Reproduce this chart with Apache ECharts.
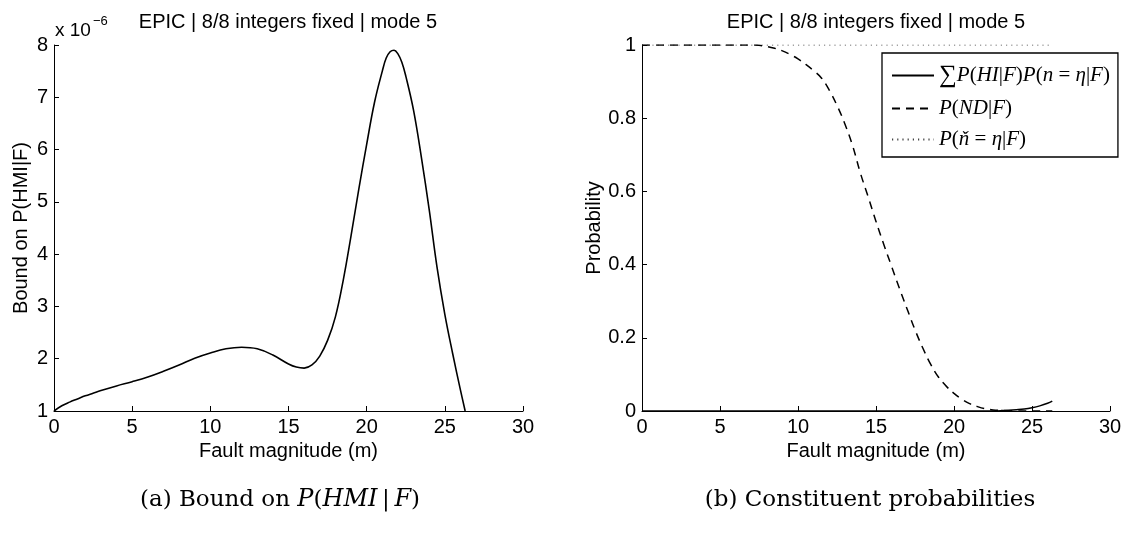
<!DOCTYPE html>
<html>
<head>
<meta charset="utf-8">
<script src="https://cdn.jsdelivr.net/npm/echarts@6/dist/echarts.min.js"></script>
<style>
html,body{margin:0;padding:0;background:#fff;}
#chart{width:1133px;height:533px;}
</style>
</head>
<body>
<div id="chart"></div>
<script>
// ---------- data ----------
const titleText = 'EPIC | 8/8 integers fixed | mode 5';
const xTicks = [0, 5, 10, 15, 20, 25, 30];

// (a) bound on P(HMI|F), values in units of 1e-6
const xLeft = [0,0.5,1,1.5,2,2.5,3,4,5,6,7,8,9,10,11,12,13,14,15,15.5,16,16.5,17,17.5,18,18.5,19,19.5,20,20.5,21,21.25,21.5,21.75,22,22.25,22.5,23,23.5,24,24.5,25,25.5,26,26.3];
const boundE6 = [1.0,1.10,1.17,1.23,1.29,1.34,1.39,1.48,1.56,1.65,1.76,1.88,2.01,2.11,2.19,2.22,2.19,2.07,1.90,1.84,1.82,1.88,2.05,2.35,2.8,3.5,4.35,5.25,6.1,6.9,7.5,7.75,7.87,7.9,7.83,7.67,7.41,6.75,5.85,4.85,3.75,2.85,2.1,1.4,1.0];

// (b) constituent probabilities
const xRight = [0,1,2,3,4,5,6,7,7.5,8,8.5,9,9.5,10,10.5,11,11.5,12,12.5,13,13.5,14,14.5,15,15.5,16,16.5,17,17.5,18,18.5,19,19.5,20,20.5,21,21.5,22,22.5,23,23.5,24,24.5,25,25.5,26,26.3];
const pSumHI = [0,0,0,0,0,0,0,0,0,0,0,0,0,0,0,0,0,0,0,0,0,0,0,0,0,0,0,0,0,0,0,0,0,0,0,0,0,0,0.0003,0.001,0.002,0.0035,0.0055,0.009,0.014,0.021,0.027];
const pND = [1,1,1,1,1,1,1,1,0.999,0.996,0.991,0.984,0.974,0.962,0.947,0.93,0.91,0.877,0.835,0.785,0.725,0.65,0.585,0.518,0.455,0.395,0.335,0.278,0.222,0.172,0.128,0.093,0.068,0.048,0.032,0.02,0.012,0.006,0.003,0.0015,0.0008,0.0004,0.0002,0.0001,0,0,0];
const pCheck = [1,1,1,1,1,1,1,1,1,1,1,1,1,1,1,1,1,1,1,1,1,1,1,1,1,1,1,1,1,1,1,1,1,1,1,1,1,1,1,1,1,1,1,1,1,1,1];

// ---------- helpers ----------
const pairs = (xs, ys) => xs.map((x, i) => [x, ys[i]]);
const SANS = '"Liberation Sans", Arial, Helvetica, sans-serif';
const SERIF = '"Liberation Serif", "Times New Roman", serif';
const CAPSERIF = '"DejaVu Serif", serif';

const axisCommon = {
  axisLine: {show: true, onZero: false, lineStyle: {color: '#000', width: 1}},
  axisTick: {show: true, inside: true, length: 5, lineStyle: {color: '#000', width: 1}},
  splitLine: {show: false},
  axisLabel: {color: '#000', fontSize: 20, fontFamily: SANS, margin: 6}
};
function xAxisFor(grid) {
  return Object.assign({}, axisCommon, {
    type: 'value', gridIndex: grid, min: 0, max: 30, interval: 5,
    name: 'Fault magnitude (m)', nameLocation: 'middle', nameGap: 26,
    nameTextStyle: {color: '#000', fontSize: 20, fontFamily: SANS}
  });
}

const legendRich = {
  i: {fontFamily: SERIF, fontStyle: 'italic', fontSize: 21, color: '#000', lineHeight: 20},
  r: {fontFamily: SERIF, fontSize: 21, color: '#000', lineHeight: 20},
  s: {fontFamily: SERIF, fontSize: 25, color: '#000', lineHeight: 20}
};
const legendLabels = {
  'sumHI': '{s|∑}{i|P}{r|(}{i|HI}{r||}{i|F}{r|)}{i|P}{r|(}{i|n}{r| = }{i|η}{r||}{i|F}{r|)}',
  'ND': '{i|P}{r|(}{i|ND}{r||}{i|F}{r|)}',
  'nCheck': '{i|P}{r|(}{i|ň}{r| = }{i|η}{r||}{i|F}{r|)}'
};
const capRich = {
  r: {fontFamily: CAPSERIF, fontSize: 23, fill: '#000'},
  i: {fontFamily: CAPSERIF, fontStyle: 'italic', fontSize: 24, fill: '#000'}
};

const chart = echarts.init(document.getElementById('chart'), null, {renderer: 'canvas'});
chart.setOption({
  animation: false,
  backgroundColor: '#fff',
  grid: [
    {left: 54, top: 45, width: 469, height: 366},
    {left: 642, top: 45, width: 468, height: 366}
  ],
  xAxis: [xAxisFor(0), xAxisFor(1)],
  yAxis: [
    Object.assign({}, axisCommon, {
      type: 'value', gridIndex: 0, min: 1, max: 8, interval: 1,
      name: 'Bound on P(HMI|F)', nameLocation: 'middle', nameGap: 23,
      nameTextStyle: {color: '#000', fontSize: 20, fontFamily: SANS}
    }),
    Object.assign({}, axisCommon, {
      type: 'value', gridIndex: 1, min: 0, max: 1, interval: 0.2,
      name: 'Probability', nameLocation: 'middle', nameGap: 28,
      nameTextStyle: {color: '#000', fontSize: 20, fontFamily: SANS}
    })
  ],
  legend: {
    data: ['sumHI', 'ND', 'nCheck'],
    orient: 'vertical',
    left: 882, top: 53,
    itemWidth: 42, itemHeight: 14, itemGap: 10,
    padding: [10, 8, 7, 9],
    borderColor: '#000', borderWidth: 1.3,
    backgroundColor: '#fff',
    selectedMode: false,
    itemStyle: {opacity: 0},
    formatter: name => legendLabels[name],
    textStyle: {rich: legendRich, lineHeight: 20}
  },
  series: [
    {
      name: 'bound', type: 'line', xAxisIndex: 0, yAxisIndex: 0,
      data: pairs(xLeft, boundE6), showSymbol: false, symbol: 'none', smooth: 0.4,
      lineStyle: {color: '#000', width: 1.6}
    },
    {
      name: 'nCheck', type: 'line', xAxisIndex: 1, yAxisIndex: 1,
      data: pairs(xRight, pCheck), showSymbol: false, symbol: 'none', smooth: false,
      lineStyle: {color: '#444', width: 1, type: [1.2, 4]}, itemStyle: {color: '#444'}
    },
    {
      name: 'ND', type: 'line', xAxisIndex: 1, yAxisIndex: 1,
      data: pairs(xRight, pND), showSymbol: false, symbol: 'none', smooth: 0.4,
      lineStyle: {color: '#000', width: 1.5, type: [8, 6]}, itemStyle: {color: '#000'}
    },
    {
      name: 'sumHI', type: 'line', xAxisIndex: 1, yAxisIndex: 1,
      data: pairs(xRight, pSumHI), showSymbol: false, symbol: 'none', smooth: 0.4,
      lineStyle: {color: '#000', width: 1.5}, itemStyle: {color: '#000'}
    }
  ],
  graphic: [
    {type: 'text', x: 288, y: 22, style: {text: titleText, fill: '#000', font: '20px ' + SANS, align: 'center', verticalAlign: 'middle'}},
    {type: 'text', x: 876, y: 22, style: {text: titleText, fill: '#000', font: '20px ' + SANS, align: 'center', verticalAlign: 'middle'}},
    {type: 'text', x: 55, y: 31, style: {text: 'x 10', fill: '#000', font: '19px ' + SANS, align: 'left', verticalAlign: 'middle'}},
    {type: 'text', x: 93, y: 21, style: {text: '\u22126', fill: '#000', font: '13px ' + SANS, align: 'left', verticalAlign: 'middle'}},
    {type: 'text', x: 280, y: 500, style: {
      text: '{r|(a) Bound on }{i|P}{r|(}{i|HMI}{r|\u2009|\u2009}{i|F}{r|)}', rich: capRich, align: 'center', verticalAlign: 'middle'}},
    {type: 'text', x: 870, y: 500, style: {
      text: '{r|(b) Constituent probabilities}', rich: capRich, align: 'center', verticalAlign: 'middle'}}
  ]
});
</script>
</body>
</html>
